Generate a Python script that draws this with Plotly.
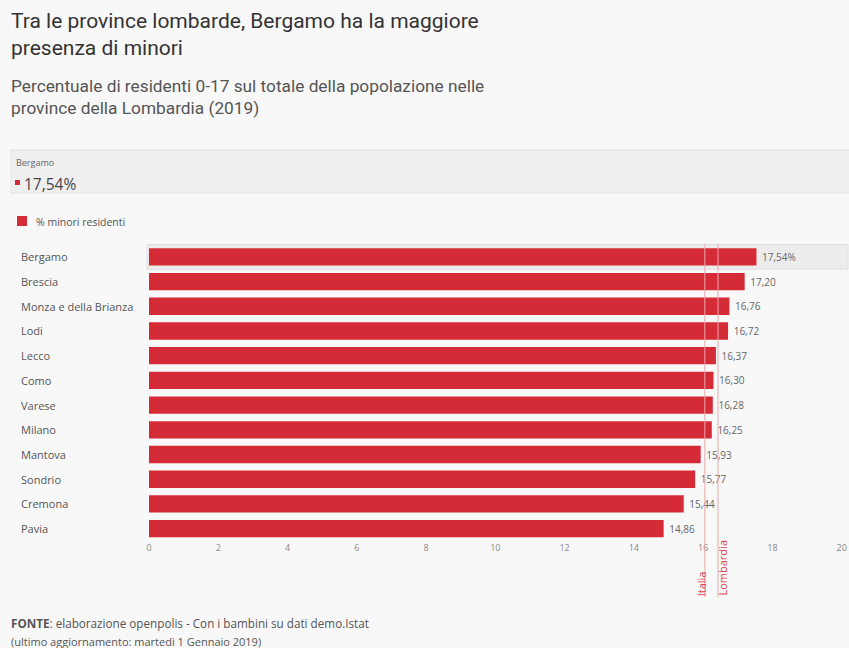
import plotly.graph_objects as go

provinces = ["Bergamo", "Brescia", "Monza e della Brianza", "Lodi", "Lecco", "Como",
             "Varese", "Milano", "Mantova", "Sondrio", "Cremona", "Pavia"]
values = [17.54, 17.20, 16.76, 16.72, 16.37, 16.30, 16.28, 16.25, 15.93, 15.77, 15.44, 14.86]
ref_names = ["Italia", "Lombardia"]
ref_values = [16.05, 16.43]
x_ticks = [0, 2, 4, 6, 8, 10, 12, 14, 16, 18, 20]

W, H = 849, 648
ML, MR, MT, MB = 149, 7, 244, 107
PH = H - MT - MB
PW = W - ML - MR

def py(ypx):
    return (H - MB - ypx) / PH

def px(xpx):
    return (xpx - ML) / PW

BAR = "#d52b36"
BG = "#f8f8f8"

labels = [" " + f"{v:.2f}".replace(".", ",") + ("%" if i == 0 else "") for i, v in enumerate(values)]

fig = go.Figure()
fig.add_trace(go.Bar(
    x=values, y=provinces, orientation="h",
    marker=dict(color=BAR, line=dict(width=0)),
    text=labels, textposition="outside", cliponaxis=False,
    textfont=dict(family="Open Sans", size=10, color="#666"),
    hoverinfo="skip", showlegend=False,
))

shapes = []
# highlight band on first row
shapes.append(dict(type="rect", xref="paper", yref="y", x0=px(147), x1=px(848),
                   y0=-0.5, y1=0.5, fillcolor="#ececec",
                   line=dict(color="#e0e0e0", width=1), layer="below"))
for v in ref_values:
    shapes.append(dict(type="line", xref="x", yref="paper", x0=v, x1=v,
                       y0=py(597), y1=1.0, line=dict(color="#eaa8ad", width=1)))
# info box
shapes.append(dict(type="rect", xref="paper", yref="paper", x0=px(10), x1=px(849),
                   y0=py(193), y1=py(150), fillcolor="#efefef", line=dict(width=0), layer="below"))
shapes.append(dict(type="line", xref="paper", yref="paper", x0=px(10), x1=px(849),
                   y0=py(150), y1=py(150), line=dict(color="#e2e2e2", width=1)))
shapes.append(dict(type="line", xref="paper", yref="paper", x0=px(10), x1=px(849),
                   y0=py(193), y1=py(193), line=dict(color="#e2e2e2", width=1)))
# legend swatch
shapes.append(dict(type="rect", xref="paper", yref="paper", x0=px(17), x1=px(27),
                   y0=py(226), y1=py(216), fillcolor=BAR, line=dict(width=0)))
# small square in info box
shapes.append(dict(type="rect", xref="paper", yref="paper", x0=px(15), x1=px(20),
                   y0=py(185), y1=py(180), fillcolor=BAR, line=dict(width=0)))

ann = []
for p in provinces:
    ann.append(dict(xref="paper", yref="y", x=px(19), y=p, text=p, showarrow=False,
                    xanchor="left", yanchor="middle",
                    font=dict(family="Open Sans", size=11, color="#555")))
for n, v, anc, sh in zip(ref_names, ref_values, ["center", "left"], [-3, -6]):
    ann.append(dict(xref="x", yref="paper", x=v, y=py(598), text=n, showarrow=False,
                    textangle=-90, xanchor=anc, yanchor="bottom", xshift=sh,
                    font=dict(family="Open Sans", size=11, color="#dc4653")))

ann += [
    dict(xref="paper", yref="paper", x=px(9), y=py(7), xanchor="left", yanchor="top",
         text="Tra le province lombarde, Bergamo ha la maggiore<br>presenza di minori",
         showarrow=False, align="left",
         font=dict(family="Roboto", size=21, color="#333")),
    dict(xref="paper", yref="paper", x=px(9), y=py(74), xanchor="left", yanchor="top",
         text="Percentuale di residenti 0-17 sul totale della popolazione nelle<br>province della Lombardia (2019)",
         showarrow=False, align="left",
         font=dict(family="Roboto", size=17.3, color="#555")),
    dict(xref="paper", yref="paper", x=px(14), y=py(154), xanchor="left", yanchor="top",
         text="Bergamo", showarrow=False,
         font=dict(family="Open Sans", size=9, color="#666")),
    dict(xref="paper", yref="paper", x=px(22), y=py(171), xanchor="left", yanchor="top",
         text="17,54%", showarrow=False,
         font=dict(family="Open Sans", size=15.5, color="#444")),
    dict(xref="paper", yref="paper", x=px(34), y=py(213), xanchor="left", yanchor="top",
         text="% minori residenti", showarrow=False,
         font=dict(family="Open Sans", size=10.5, color="#555")),
    dict(xref="paper", yref="paper", x=px(9), y=py(613), xanchor="left", yanchor="top",
         text="<b>FONTE</b>: elaborazione openpolis - Con i bambini su dati demo.Istat",
         showarrow=False, align="left",
         font=dict(family="Open Sans", size=11.7, color="#555")),
    dict(xref="paper", yref="paper", x=px(9), y=py(632), xanchor="left", yanchor="top",
         text="(ultimo aggiornamento: martedì 1 Gennaio 2019)",
         showarrow=False, align="left",
         font=dict(family="Open Sans", size=11, color="#555")),
]

fig.update_layout(
    width=W, height=H, margin=dict(l=ML, r=MR, t=MT, b=MB, autoexpand=False),
    paper_bgcolor=BG, plot_bgcolor=BG,
    bargap=0.3, showlegend=False,
    shapes=shapes, annotations=ann,
    xaxis=dict(range=[0, 20.01], tickvals=x_ticks, ticktext=[str(t) for t in x_ticks],
               showgrid=False, zeroline=False, showline=False, ticks="", automargin=False,
               tickfont=dict(family="Open Sans", size=9, color="#888")),
    yaxis=dict(categoryorder="array", categoryarray=provinces, autorange="reversed",
               automargin=False,
               showticklabels=False, showgrid=False, zeroline=False, showline=False, ticks=""),
)

fig.write_html("out.html")
